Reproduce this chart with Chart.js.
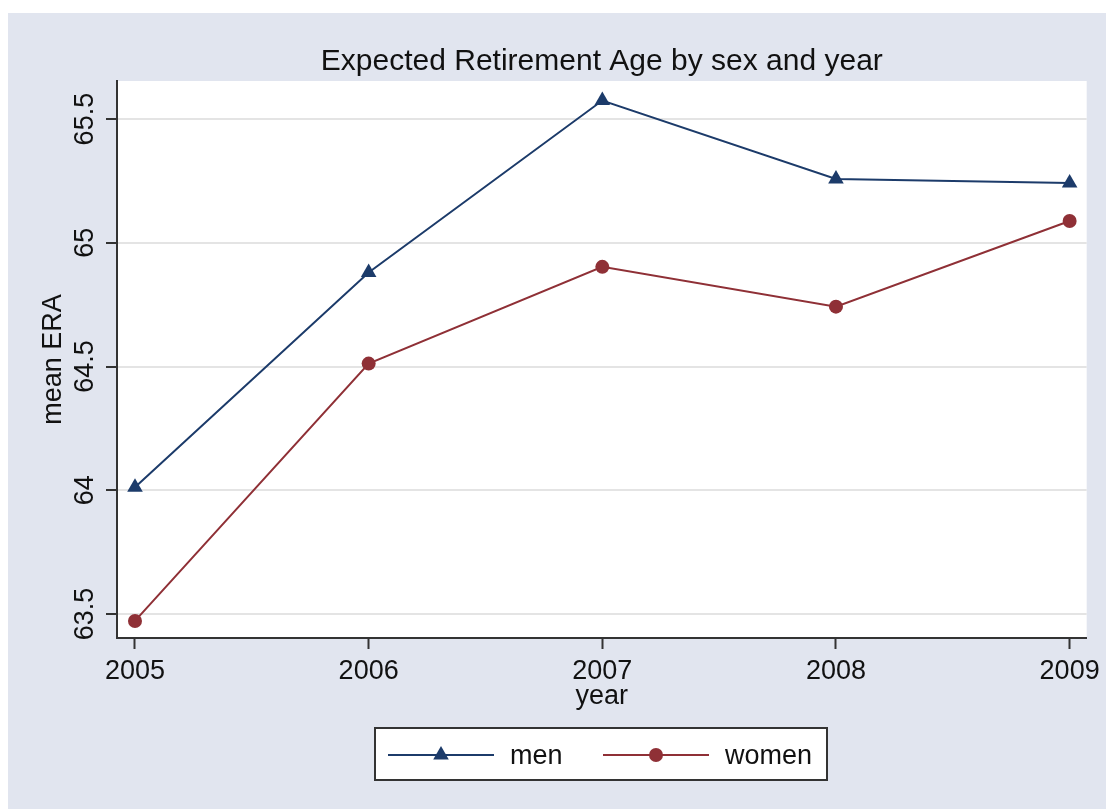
<!DOCTYPE html>
<html>
<head>
<meta charset="utf-8">
<title>Expected Retirement Age by sex and year</title>
<script src="https://cdn.jsdelivr.net/npm/chart.js@4/dist/chart.umd.min.js"></script>
<style>
  body { margin: 0; background: #fff; }
  #wrap { width: 1106px; height: 809px; }
</style>
</head>
<body>
<div id="wrap"><canvas id="graficoEra" width="1106" height="809"></canvas></div>
<script>
// valores
const anos = [2005, 2006, 2007, 2008, 2009]
const homens = [64.012, 64.88, 65.575, 65.258, 65.242]
const mulheres = [63.472, 64.512, 64.903, 64.742, 65.088]
const ticksY = [63.5, 64, 64.5, 65, 65.5]

const corHomens = '#1c3b6a'
const corMulheres = '#8f3036'
const fonte = 'Liberation Sans, Arial, sans-serif'

function pontos (valores) {
  return anos.map((ano, i) => ({ x: ano, y: valores[i] }))
}

// fundo azulado e area branca do grafico
const fundo = {
  id: 'fundo',
  beforeDraw (chart) {
    const ctx = chart.ctx
    const area = chart.chartArea
    ctx.save()
    ctx.fillStyle = '#ffffff'
    ctx.fillRect(0, 0, chart.width, chart.height)
    ctx.fillStyle = '#e1e5ef'
    ctx.fillRect(8, 13, chart.width - 8, chart.height - 13)
    ctx.fillStyle = '#ffffff'
    ctx.fillRect(area.left, area.top, area.right - area.left, area.bottom - area.top)
    ctx.restore()
  }
}

function desenhaMarcador (ctx, tipo, x, y, cor) {
  ctx.fillStyle = cor
  ctx.beginPath()
  if (tipo === 'triangle') {
    const r = 9
    let rad = 0
    ctx.moveTo(x + Math.sin(rad) * r, y - Math.cos(rad) * r)
    rad += Math.PI * 2 / 3
    ctx.lineTo(x + Math.sin(rad) * r, y - Math.cos(rad) * r)
    rad += Math.PI * 2 / 3
    ctx.lineTo(x + Math.sin(rad) * r, y - Math.cos(rad) * r)
    ctx.closePath()
  } else {
    ctx.arc(x, y, 7, 0, Math.PI * 2)
  }
  ctx.fill()
}

// legenda em caixa, no estilo do Stata
const legenda = {
  id: 'legenda',
  afterDraw (chart) {
    const ctx = chart.ctx
    ctx.save()
    ctx.fillStyle = '#ffffff'
    ctx.fillRect(375, 728, 452, 52)
    ctx.strokeStyle = '#333333'
    ctx.lineWidth = 2
    ctx.strokeRect(375, 728, 452, 52)
    const itens = chart.data.datasets.map((ds, i) => ({
      texto: ds.label, cor: ds.borderColor, tipo: ds.pointStyle, x0: i === 0 ? 388 : 603
    }))
    itens.forEach(item => {
      const y = 755
      ctx.strokeStyle = item.cor
      ctx.lineWidth = 2
      ctx.beginPath()
      ctx.moveTo(item.x0, y)
      ctx.lineTo(item.x0 + 106, y)
      ctx.stroke()
      desenhaMarcador(ctx, item.tipo, item.x0 + 53, y, item.cor)
      ctx.fillStyle = '#111111'
      ctx.font = '27px ' + fonte
      ctx.textBaseline = 'middle'
      ctx.textAlign = 'left'
      ctx.fillText(item.texto, item.x0 + 122, y + 2)
    })
    ctx.restore()
  }
}

const graficoEra = document.getElementById('graficoEra')
const graficoParaEra = new Chart(graficoEra, {
  type: 'line',
  data: {
    datasets: [{
      label: 'men',
      data: pontos(homens),
      borderColor: corHomens,
      backgroundColor: corHomens,
      borderWidth: 2,
      pointStyle: 'triangle',
      pointRadius: 9,
      pointBorderWidth: 0,
      tension: 0
    }, {
      label: 'women',
      data: pontos(mulheres),
      borderColor: corMulheres,
      backgroundColor: corMulheres,
      borderWidth: 2,
      pointStyle: 'circle',
      pointRadius: 7,
      pointBorderWidth: 0,
      tension: 0
    }]
  },
  options: {
    responsive: false,
    animation: false,
    devicePixelRatio: 1,
    layout: { padding: { left: 0, right: 19, top: 0, bottom: 0 } },
    plugins: {
      legend: { display: false },
      tooltip: { enabled: false },
      title: {
        display: true,
        fullSize: false,
        text: 'Expected Retirement Age by sex and year',
        color: '#111111',
        font: { family: fonte, size: 30, weight: 'normal' },
        padding: { top: 44, bottom: 1 }
      }
    },
    scales: {
      x: {
        type: 'linear',
        min: 2004.923,
        max: 2009.073,
        afterBuildTicks: scale => { scale.ticks = anos.map(v => ({ value: v })) },
        afterFit: scale => { scale.height = 171 },
        grid: { drawOnChartArea: false, tickLength: 11, tickColor: '#333333', tickWidth: 2 },
        border: { color: '#333333', width: 2 },
        ticks: {
          color: '#111111',
          font: { family: fonte, size: 27 },
          padding: 6,
          maxRotation: 0,
          autoSkip: false,
          callback: v => String(v)
        },
        title: {
          display: true,
          text: 'year',
          color: '#111111',
          font: { family: fonte, size: 27 },
          padding: { top: 0, bottom: 96 }
        }
      },
      y: {
        min: 63.403,
        max: 65.654,
        afterBuildTicks: scale => { scale.ticks = ticksY.map(v => ({ value: v })) },
        afterFit: scale => { scale.width = 117 },
        grid: { color: '#e4e4e4', lineWidth: 2, tickLength: 11, tickColor: '#333333', tickWidth: 2 },
        border: { color: '#333333', width: 2 },
        ticks: {
          color: '#111111',
          font: { family: fonte, size: 27 },
          minRotation: 90,
          maxRotation: 90,
          crossAlign: 'center',
          padding: -6,
          autoSkip: false,
          callback: v => String(v)
        },
        title: {
          display: true,
          text: 'mean ERA',
          color: '#111111',
          font: { family: fonte, size: 27 },
          padding: { top: 37, bottom: 0 }
        }
      }
    }
  },
  plugins: [fundo, legenda]
})
</script>
</body>
</html>
